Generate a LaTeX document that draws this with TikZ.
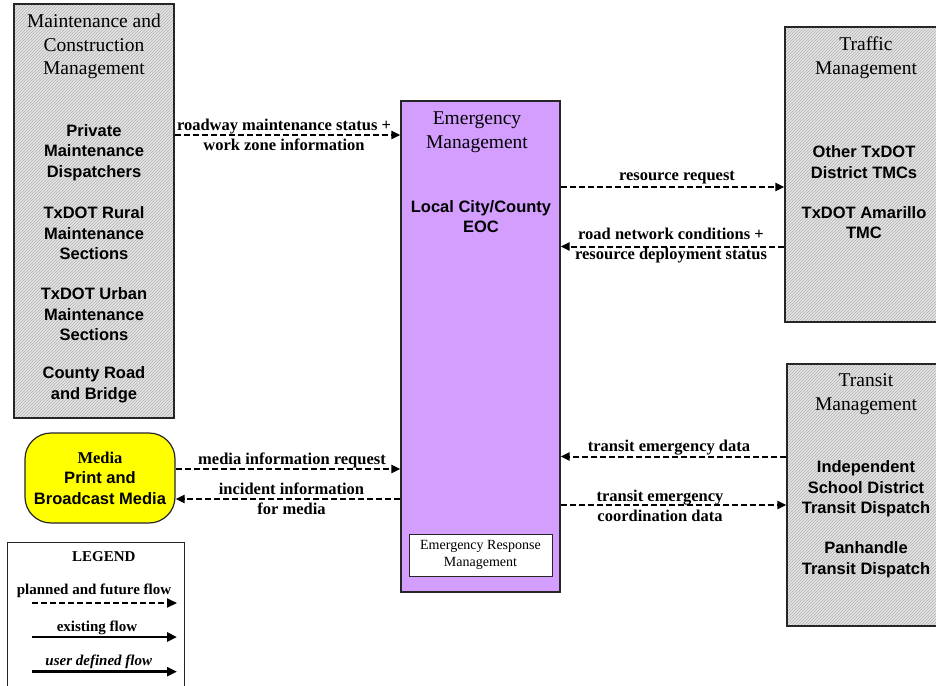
\documentclass[tikz,border=0pt]{standalone}
\usepackage{fontspec}
\setmainfont{Liberation Serif}
\setsansfont{Liberation Sans}
\usetikzlibrary{arrows.meta,patterns}

\definecolor{emPurple}{RGB}{212,158,255}
\definecolor{mediaYellow}{RGB}{255,255,0}

\tikzset{
  extbox/.style={draw=black!85, line width=1.2pt, pattern=north east lines, pattern color=black!30, preaction={fill=black!10}, inner sep=0pt},
  ttl/.style={font=\fontsize{19.5}{23.5}\selectfont, align=center},
  org/.style={font=\sffamily\bfseries\fontsize{16.5}{20.5}\selectfont, align=center},
  lbl/.style={font=\bfseries\fontsize{16.5}{20.5}\selectfont, align=center},
  lgd/.style={font=\bfseries\fontsize{15}{18}\selectfont, align=center},
  flow/.style={line width=2pt, dash pattern=on 6pt off 3pt, -{Triangle[length=9pt,width=8pt]}},
  solidflow/.style={line width=2.6pt, -{Triangle[length=10pt,width=9pt]}},
}

\begin{document}
\begin{tikzpicture}[x=1pt, y=-1pt]
  %%%%% FRAME %%%%%
  \useasboundingbox (0,0) rectangle (936,685);
  \clip (0,0) rectangle (936,685);

  %%%%% MAINTENANCE AND CONSTRUCTION %%%%%
  \node[extbox, minimum width=160pt, minimum height=414pt] (mcm) at (94,211) {};
  \node[ttl] (mcmT) at (94,46.5) {Maintenance and\\Construction\\Management};
  \node[org] (mcmA) at (94,152.5) {Private\\Maintenance\\Dispatchers};
  \node[org] (mcmB) at (94,233.5) {TxDOT Rural\\Maintenance\\Sections};
  \node[org] (mcmC) at (94,314.5) {TxDOT Urban\\Maintenance\\Sections};
  \node[org] (mcmD) at (94,385) {County Road\\and Bridge};

  %%%%% TRAFFIC %%%%%
  \node[extbox, minimum width=162pt, minimum height=295pt] (tm) at (866,174.5) {};
  \node[ttl] (tmT) at (866,57.5) {Traffic\\Management};
  \node[org] (tmA) at (864,162) {Other TxDOT\\District TMCs};
  \node[org] (tmB) at (864,222.5) {TxDOT Amarillo\\TMC};

  %%%%% TRANSIT %%%%%
  \node[extbox, minimum width=160pt, minimum height=262pt] (trm) at (867,495) {};
  \node[ttl] (trmT) at (866,394) {Transit\\Management};
  \node[org] (trmA) at (866,489) {Independent\\School District\\Transit Dispatch};
  \node[org] (trmB) at (866,559.5) {Panhandle\\Transit Dispatch};

  %%%%% MEDIA %%%%%
  \node[org, draw=black!85, line width=1.2pt, fill=mediaYellow, rounded corners=26pt, minimum width=150pt, minimum height=90pt] (media) at (100,478) {{\rmfamily Media}\\Print and\\Broadcast Media};

  %%%%% EMERGENCY MANAGEMENT %%%%%
  \node[draw=black!85, line width=1.2pt, fill=emPurple, minimum width=159pt, minimum height=491pt] (em) at (480.5,346.5) {};
  \node[ttl] (emT) at (477,132) {Emergency\\Management};
  \node[org] (emA) at (481,216.5) {Local City/County\\EOC};
  \node[draw=black!85, line width=1pt, fill=white, minimum width=143pt, minimum height=42pt, font=\fontsize{14}{17}\selectfont, align=center] (erm) at (480.5,555) {Emergency Response\\Management};

  %%%%% FLOWS %%%%%
  \draw[flow] (mcm.east |- 0,135) -- (em.west |- 0,135);
  \node[lbl] (fRoad) at (284,135) {roadway maintenance status +\\work zone information};

  \draw[flow] (em.east |- 0,187) -- (tm.west |- 0,187);
  \node[lbl] (fReq) at (677,178) {resource request};

  \draw[flow] (tm.west |- 0,246.5) -- (em.east |- 0,246.5);
  \node[lbl] (fNet) at (671,245.5) {road network conditions +\\resource deployment status};

  \draw[flow] (trm.west |- 0,456.5) -- (em.east |- 0,456.5);
  \node[lbl] (fTrData) at (669,448) {transit emergency data};

  \draw[flow] (em.east |- 0,505) -- (trm.west |- 0,505);
  \node[lbl] (fTrCoord) at (660,506) {transit emergency\\coordination data};

  \draw[flow] (media.east |- 0,469) -- (em.west |- 0,469);
  \node[lbl] (fMedReq) at (292,460) {media information request};

  \draw[flow] (em.west |- 0,499) -- (media.east |- 0,499);
  \node[lbl] (fInc) at (291.5,499) {incident information\\for media};

  %%%%% LEGEND %%%%%
  \node[draw=black!85, line width=1.2pt, fill=white, minimum width=177pt, minimum height=170pt, anchor=north] (legend) at (96,541.7) {};
  \node[lgd] (lgT) at (103.8,557) {LEGEND};
  \node[lgd] (lgA) at (94,590.7) {planned and future flow};
  \coordinate (lgA1) at (32,603);
  \coordinate (lgA2) at (177,603);
  \draw[flow, -{Triangle[length=10pt,width=9pt]}] (lgA1) -- (lgA2);
  \node[lgd] (lgB) at (97,627.7) {existing flow};
  \coordinate (lgB1) at (32,637);
  \coordinate (lgB2) at (177,637);
  \draw[solidflow] (lgB1) -- (lgB2);
  \node[lgd, font=\bfseries\itshape\fontsize{15}{18}\selectfont] (lgC) at (98.8,661.7) {user defined flow};
  \coordinate (lgC1) at (32,671.7);
  \coordinate (lgC2) at (177,671.7);
  \draw[solidflow] (lgC1) -- (lgC2);
\end{tikzpicture}
\end{document}
